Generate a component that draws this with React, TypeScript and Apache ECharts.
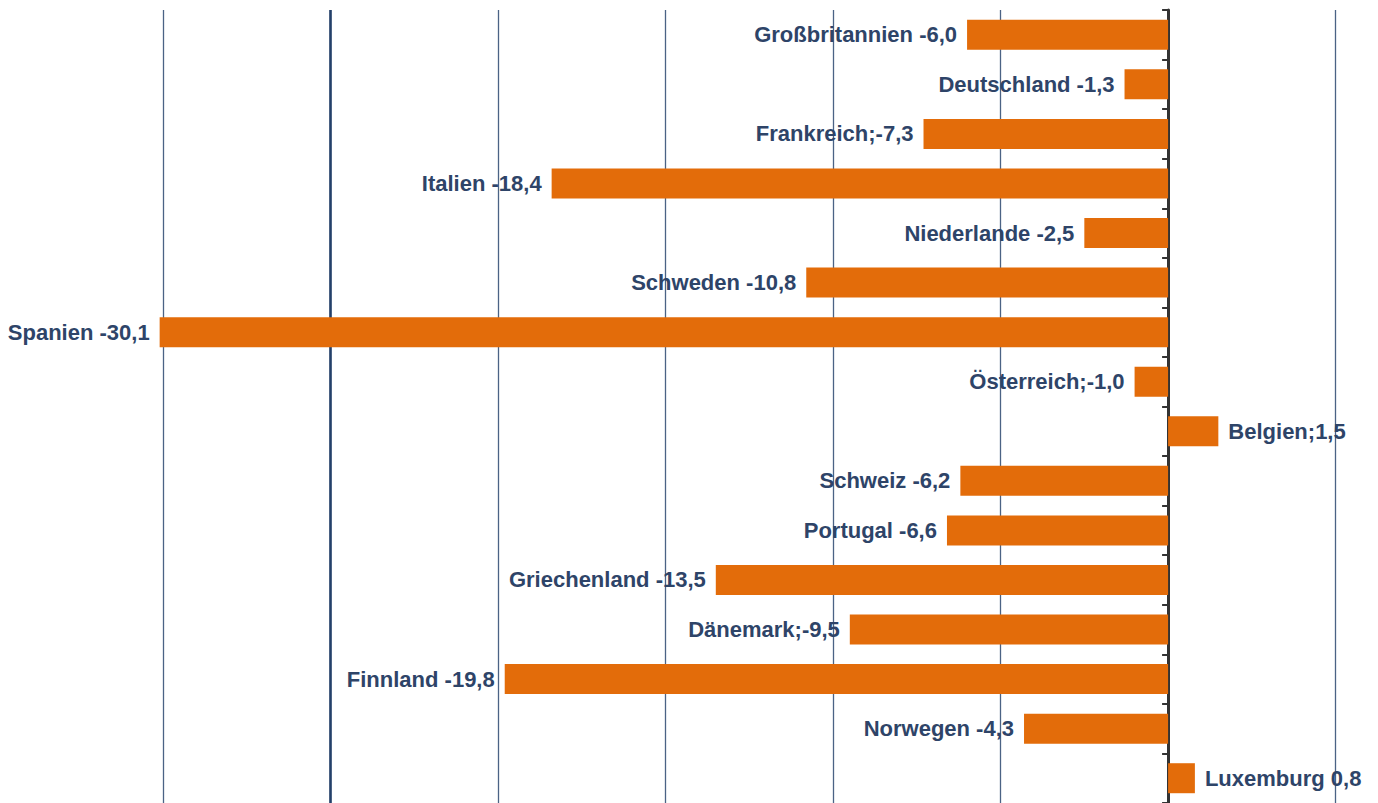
import React, { useEffect, useRef } from "react";
import * as echarts from "echarts";

const categories = [
  "Großbritannien",
  "Deutschland",
  "Frankreich",
  "Italien",
  "Niederlande",
  "Schweden",
  "Spanien",
  "Österreich",
  "Belgien",
  "Schweiz",
  "Portugal",
  "Griechenland",
  "Dänemark",
  "Finnland",
  "Norwegen",
  "Luxemburg",
];
const values = [-6.0, -1.3, -7.3, -18.4, -2.5, -10.8, -30.1, -1.0, 1.5, -6.2, -6.6, -13.5, -9.5, -19.8, -4.3, 0.8];
const separators = [" ", " ", ";", " ", " ", " ", " ", ";", ";", " ", " ", " ", ";", " ", " ", " "];
const xTicks = { min: -30, max: 5, interval: 5 };
const emphasisLine = -25;

const fmt = (v: number) => v.toFixed(1).replace(".", ",");

export default function App() {
  const ref = useRef<HTMLDivElement>(null);
  useEffect(() => {
    if (!ref.current) return;
    const chart = echarts.init(ref.current, undefined, { renderer: "svg" });
    const labelColor = "#2e4468";
    chart.setOption({
      animation: false,
      grid: { left: 163, right: 42.4, top: 10, bottom: 0, containLabel: false },
      xAxis: {
        type: "value",
        min: xTicks.min,
        max: xTicks.max,
        interval: xTicks.interval,
        axisLine: { show: false },
        axisTick: { show: false },
        axisLabel: { show: false },
        splitLine: { show: true, lineStyle: { color: "#4b6385", width: 1.3 } },
      },
      yAxis: {
        type: "category",
        data: categories,
        inverse: true,
        axisLine: { show: true, onZero: true, lineStyle: { color: "#333333", width: 3 } },
        axisTick: { show: true, length: 6, lineStyle: { color: "#333333", width: 2 } },
        axisLabel: { show: false },
        splitLine: { show: false },
      },
      series: [
        {
          type: "line",
          data: [],
          z: 1,
          silent: true,
          markLine: {
            z: 1,
            silent: true,
            symbol: ["none", "none"],
            label: { show: false },
            lineStyle: { color: "#24406a", width: 2.6, type: "solid" },
            data: [{ xAxis: emphasisLine }],
          },
        },
        {
          type: "bar",
          z: 3,
          clip: false,
          barWidth: 30,
          data: values.map((v, i) => ({
            value: v,
            label: {
              show: true,
              position: v < 0 ? "left" : "right",
              distance: 10,
              formatter: () => categories[i] + separators[i] + fmt(v),
              color: labelColor,
              fontFamily: "Liberation Sans, Arial, sans-serif",
              fontWeight: "bold",
              fontSize: 22,
            },
          })),
          itemStyle: { color: "#e36c0a" },
        },
      ],
    });
    return () => chart.dispose();
  }, []);
  return (
    <div
      ref={ref}
      style={{ position: "absolute", left: 0, top: 0, width: 1378, height: 803, background: "#fff" }}
    />
  );
}
